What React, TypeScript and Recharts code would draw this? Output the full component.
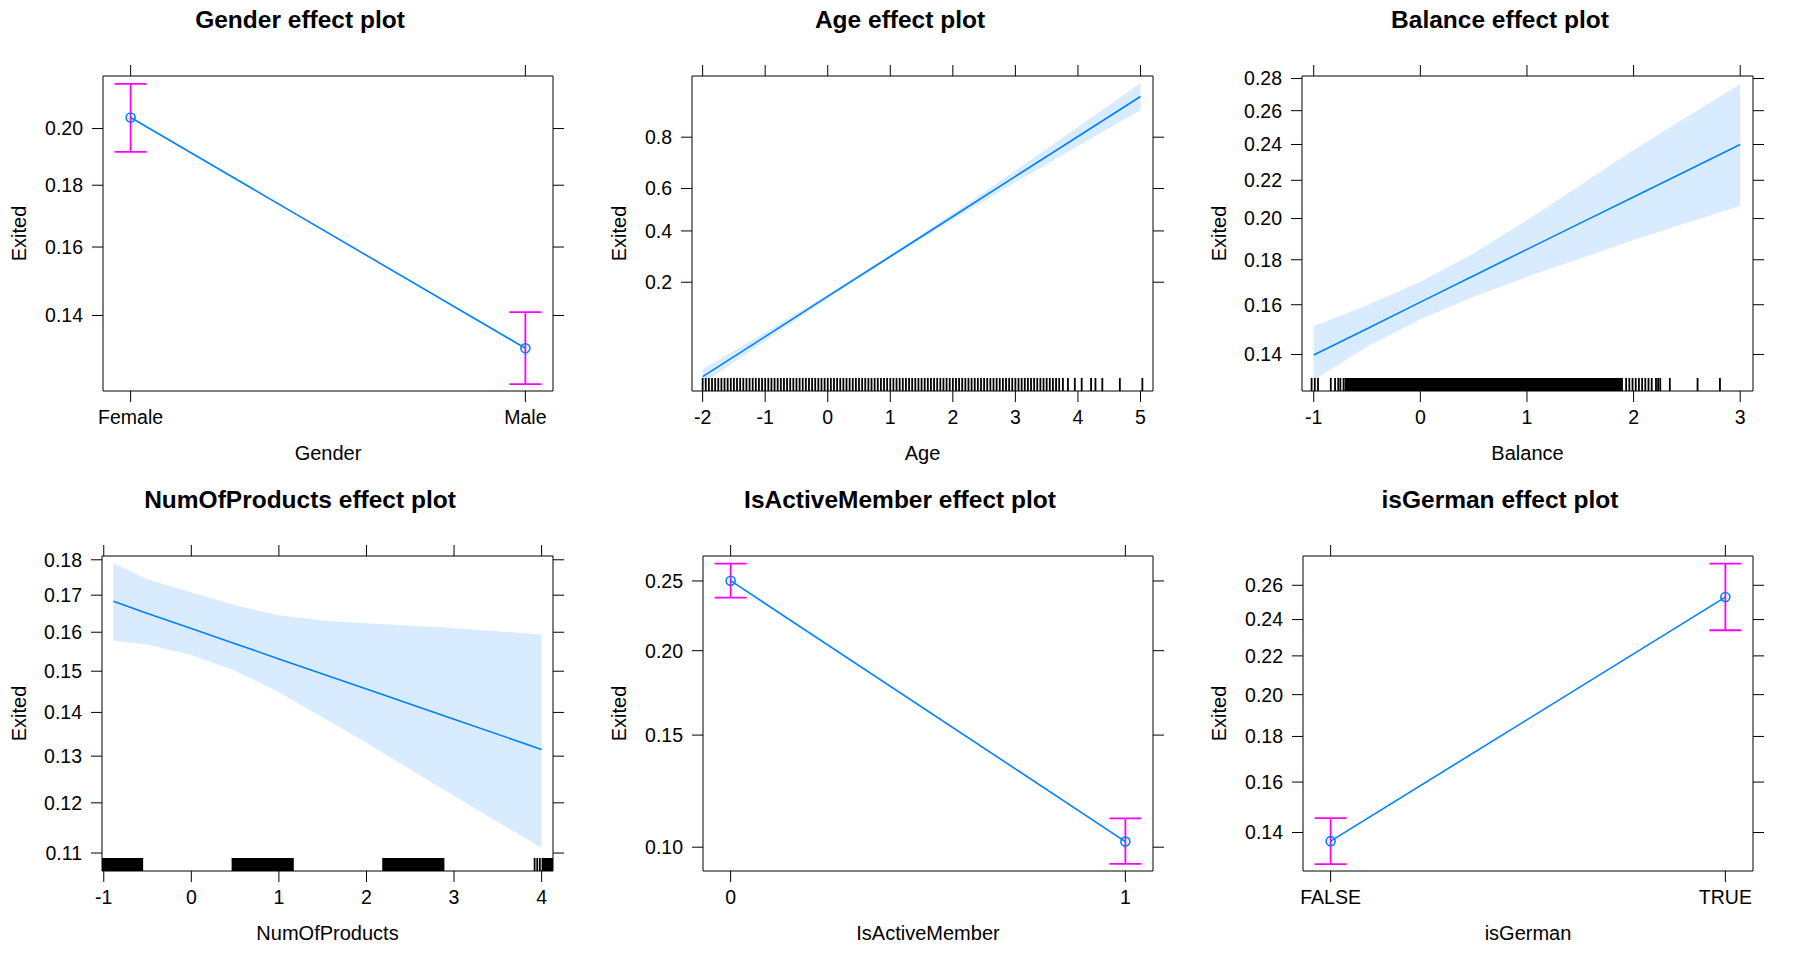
import React from 'react';
import {
  ComposedChart,
  XAxis,
  YAxis,
  Line,
  Area,
  Scatter,
  ErrorBar,
  ReferenceArea,
} from 'recharts';

// ---- Gender ----
const genderLevels = ['Female', 'Male'];
const genderFit = [0.2041, 0.1312];
const genderLower = [0.1916, 0.1221];
const genderUpper = [0.2169, 0.1409];
const genderYRange = [0.1204, 0.22];
const genderYTicks = [0.14, 0.16, 0.18, 0.2];
const genderYLabels = ['0.14', '0.16', '0.18', '0.20'];

// ---- Age ----
const ageX = [-2, -1, 0, 1, 2, 3, 4, 5];
const ageFit = [0.0395, 0.0812, 0.16, 0.29, 0.4675, 0.654, 0.802, 0.897];
const ageLower = [0.0346, 0.0755, 0.1545, 0.2839, 0.4526, 0.6283, 0.7721, 0.8699];
const ageUpper = [0.0452, 0.0875, 0.1652, 0.2963, 0.4825, 0.6781, 0.8292, 0.9184];
const ageYRange = [0.0303, 0.928];
const ageYTicks = [0.2, 0.4, 0.6, 0.8];
const ageYLabels = ['0.2', '0.4', '0.6', '0.8'];
const ageXTicks = [-2, -1, 0, 1, 2, 3, 4, 5];
const ageRug = [
  -2.0, -1.95, -1.9, -1.85, -1.8, -1.75, -1.7, -1.65, -1.6, -1.55, -1.5, -1.45, -1.4, -1.35,
  -1.3, -1.25, -1.2, -1.15, -1.1, -1.05, -1.0, -0.95, -0.9, -0.85, -0.8, -0.75, -0.7, -0.65,
  -0.6, -0.55, -0.5, -0.45, -0.4, -0.35, -0.3, -0.25, -0.2, -0.15, -0.1, -0.05, 0.0, 0.05,
  0.1, 0.15, 0.2, 0.25, 0.3, 0.35, 0.4, 0.45, 0.5, 0.55, 0.6, 0.65, 0.7, 0.75, 0.8, 0.85,
  0.9, 0.95, 1.0, 1.05, 1.1, 1.15, 1.2, 1.25, 1.3, 1.35, 1.4, 1.45, 1.5, 1.55, 1.6, 1.65,
  1.7, 1.75, 1.8, 1.85, 1.9, 1.95, 2.0, 2.05, 2.1, 2.15, 2.2, 2.25, 2.3, 2.35, 2.4, 2.45,
  2.5, 2.55, 2.6, 2.65, 2.7, 2.75, 2.8, 2.85, 2.9, 2.95, 3.0, 3.05, 3.1, 3.15, 3.2, 3.25,
  3.3, 3.35, 3.4, 3.45, 3.5, 3.55, 3.6, 3.65, 3.7, 3.76, 3.84, 3.95, 4.06, 4.21, 4.28, 4.39,
  4.67, 5.03,
];

// ---- Balance ----
const balanceX = [-1, -0.5, 0, 0.5, 1, 1.5, 2, 2.5, 3];
const balanceFit = [0.1398, 0.1501, 0.1611, 0.1727, 0.1849, 0.1977, 0.2111, 0.2252, 0.24];
const balanceLower = [0.1306, 0.143, 0.1539, 0.1634, 0.1722, 0.1806, 0.1894, 0.1979, 0.2064];
const balanceUpper = [0.1511, 0.1598, 0.17, 0.183, 0.1992, 0.2174, 0.2368, 0.2563, 0.2763];
const balanceYRange = [0.1267, 0.2816];
const balanceYTicks = [0.14, 0.16, 0.18, 0.2, 0.22, 0.24, 0.26, 0.28];
const balanceYLabels = ['0.14', '0.16', '0.18', '0.20', '0.22', '0.24', '0.26', '0.28'];
const balanceXTicks = [-1, 0, 1, 2, 3];
const balanceRug = [
  -1.02, -0.99, -0.96, -0.84, -0.8, -0.77, -0.75, -0.72, 1.93, 1.96, 1.99, 2.02, 2.05, 2.08,
  2.11, 2.14, 2.17, 2.21, 2.23, 2.25, 2.34, 2.6, 2.81,
];
const balanceRugBlocks: [number, number][] = [[-0.71, 1.9]];

// ---- NumOfProducts ----
const productsX = [-0.89, -0.5, 0, 0.5, 1, 1.5, 2, 3, 4];
const productsFit = [0.1683, 0.165, 0.161, 0.157, 0.1531, 0.1493, 0.1456, 0.1384, 0.1315];
const productsLower = [0.1578, 0.1568, 0.1541, 0.1501, 0.1448, 0.1388, 0.133, 0.1214, 0.111];
const productsUpper = [0.1791, 0.1744, 0.1708, 0.1672, 0.1645, 0.1631, 0.1624, 0.1611, 0.1594];
const productsYRange = [0.1066, 0.1811];
const productsYTicks = [0.11, 0.12, 0.13, 0.14, 0.15, 0.16, 0.17, 0.18];
const productsYLabels = ['0.11', '0.12', '0.13', '0.14', '0.15', '0.16', '0.17', '0.18'];
const productsXTicks = [-1, 0, 1, 2, 3, 4];
const productsRug = [3.92, 3.95, 3.98];
const productsRugBlocks: [number, number][] = [
  [-1.02, -0.55],
  [0.46, 1.17],
  [2.18, 2.89],
  [4.0, 4.15],
];

// ---- IsActiveMember ----
const activeLevels = ['0', '1'];
const activeFit = [0.2502, 0.1021];
const activeLower = [0.2373, 0.094];
const activeUpper = [0.2637, 0.1112];
const activeYRange = [0.0915, 0.2698];
const activeYTicks = [0.1, 0.15, 0.2, 0.25];
const activeYLabels = ['0.10', '0.15', '0.20', '0.25'];

// ---- isGerman ----
const germanLevels = ['FALSE', 'TRUE'];
const germanFit = [0.1368, 0.253];
const germanLower = [0.1286, 0.234];
const germanUpper = [0.1455, 0.2732];
const germanYRange = [0.1262, 0.2779];
const germanYTicks = [0.14, 0.16, 0.18, 0.2, 0.22, 0.24, 0.26];
const germanYLabels = ['0.14', '0.16', '0.18', '0.20', '0.22', '0.24', '0.26'];

const W = 600;
const H = 480;
const PLOT_TOP = 76;
const PLOT_BOTTOM = 391;
const PLOT_RIGHT = 553;
const TICK = 11;
const RUG_PX = 13;
const BLUE = '#0080ff';
const BAND = '#d9ebff';
const MAGENTA = '#ff00ff';

const logit = (p: number) => Math.log(p / (1 - p));

type PanelProps = {
  left: number;
  top: number;
  title: string;
  xLabel: string;
  plotLeft: number;
  xDomain: [number, number];
  xTicks: number[];
  xLabels: string[];
  yRange: number[];
  yTicks: number[];
  yLabels: string[];
  factor?: { fit: number[]; lower: number[]; upper: number[] };
  curve?: { xs: number[]; fit: number[]; lower: number[]; upper: number[] };
  rug?: number[];
  rugBlocks?: [number, number][];
};

const Panel = (props: PanelProps) => {
  const { left, top, title, xLabel, plotLeft, xDomain, xTicks, xLabels, yRange, yTicks, yLabels } = props;
  const yDom: [number, number] = [logit(yRange[0]), logit(yRange[1])];
  const yTickPos = yTicks.map(logit);
  const rugH = ((yDom[1] - yDom[0]) * RUG_PX) / (PLOT_BOTTOM - PLOT_TOP);

  const fmtX = (v: number) => {
    const i = xTicks.findIndex((t) => Math.abs(t - v) < 1e-9);
    return i >= 0 ? xLabels[i] : '';
  };
  const fmtY = (v: number) => {
    const i = yTickPos.findIndex((t) => Math.abs(t - v) < 1e-9);
    return i >= 0 ? yLabels[i] : '';
  };

  let data: any[] = [];
  if (props.factor) {
    const f = props.factor;
    data = f.fit.map((p, i) => ({
      x: i,
      y: logit(p),
      err: [logit(p) - logit(f.lower[i]), logit(f.upper[i]) - logit(p)],
    }));
  } else if (props.curve) {
    const c = props.curve;
    data = c.xs.map((x, i) => ({
      x,
      fit: logit(c.fit[i]),
      band: [logit(c.lower[i]), logit(c.upper[i])],
    }));
  }

  const rugData = (props.rug || []).map((x) => ({ x, y: yDom[0] }));
  const plotCenter = (plotLeft + PLOT_RIGHT) / 2;
  const tickStyle = { fill: '#000', fontSize: 19.5 };

  return (
    <div style={{ position: 'absolute', left, top, width: W, height: H }}>
      <ComposedChart width={W} height={H} data={data} margin={{ top: 0, right: 0, bottom: 0, left: 0 }}>
        <XAxis
          xAxisId="b"
          dataKey="x"
          type="number"
          domain={xDomain}
          allowDataOverflow
          ticks={xTicks}
          interval={0}
          tickFormatter={fmtX}
          height={H - PLOT_BOTTOM}
          tickSize={TICK}
          tickMargin={8}
          stroke="#000"
          tick={tickStyle}
        />
        <XAxis
          xAxisId="t"
          dataKey="x"
          orientation="top"
          type="number"
          domain={xDomain}
          allowDataOverflow
          ticks={xTicks}
          interval={0}
          tickFormatter={() => ''}
          height={PLOT_TOP}
          tickSize={TICK}
          stroke="#000"
        />
        <YAxis
          yAxisId="l"
          type="number"
          domain={yDom}
          allowDataOverflow
          ticks={yTickPos}
          interval={0}
          tickFormatter={fmtY}
          width={plotLeft}
          tickSize={TICK}
          tickMargin={9}
          stroke="#000"
          tick={tickStyle}
        />
        <YAxis
          yAxisId="r"
          orientation="right"
          type="number"
          domain={yDom}
          allowDataOverflow
          ticks={yTickPos}
          interval={0}
          tickFormatter={() => ''}
          width={W - PLOT_RIGHT}
          tickSize={TICK}
          stroke="#000"
        />

        {props.curve && (
          <Area
            xAxisId="b"
            yAxisId="l"
            dataKey="band"
            type="linear"
            stroke="none"
            fill={BAND}
            fillOpacity={1}
            isAnimationActive={false}
          />
        )}

        {(props.rugBlocks || []).map(([a, b], i) => (
          <ReferenceArea
            key={'blk' + i}
            xAxisId="b"
            yAxisId="l"
            x1={a}
            x2={b}
            y1={yDom[0]}
            y2={yDom[0] + rugH}
            fill="#000"
            fillOpacity={1}
            stroke="none"
            ifOverflow="hidden"
          />
        ))}

        {props.rug && (
          <Scatter
            xAxisId="b"
            yAxisId="l"
            data={rugData}
            dataKey="y"
            isAnimationActive={false}
            shape={(p: any) => (
              <line x1={p.cx} x2={p.cx} y1={p.cy} y2={p.cy - RUG_PX} stroke="#000" strokeWidth={1.8} />
            )}
          />
        )}

        {props.curve && (
          <Line
            xAxisId="b"
            yAxisId="l"
            dataKey="fit"
            type="linear"
            stroke={BLUE}
            strokeWidth={1.6}
            dot={false}
            isAnimationActive={false}
          />
        )}

        {props.factor && (
          <Line
            xAxisId="b"
            yAxisId="l"
            dataKey="y"
            type="linear"
            stroke={BLUE}
            strokeWidth={1.6}
            dot={{ r: 4.5, stroke: BLUE, strokeWidth: 1.6, fill: 'none' }}
            isAnimationActive={false}
          >
            <ErrorBar dataKey="err" direction="y" width={16} stroke={MAGENTA} strokeWidth={1.8} />
          </Line>
        )}
      </ComposedChart>

      <svg
        width={W}
        height={H}
        style={{ position: 'absolute', left: 0, top: 0, pointerEvents: 'none' }}
      >
        <text x={300} y={27.5} textAnchor="middle" fontSize={24.5} fontWeight="bold" fill="#000">
          {title}
        </text>
        <text x={plotCenter} y={460} textAnchor="middle" fontSize={20} fill="#000">
          {xLabel}
        </text>
        <text
          transform={`translate(26,${(PLOT_TOP + PLOT_BOTTOM) / 2}) rotate(-90)`}
          textAnchor="middle"
          fontSize={20}
          fill="#000"
        >
          Exited
        </text>
      </svg>
    </div>
  );
};

const App = () => {
  return (
    <div
      style={{
        position: 'absolute',
        left: 0,
        top: 0,
        width: 1800,
        height: 960,
        background: '#fff',
        fontFamily: '"Liberation Sans", Arial, sans-serif',
      }}
    >
      <Panel
        left={0}
        top={0}
        title="Gender effect plot"
        xLabel="Gender"
        plotLeft={103}
        xDomain={[-0.07, 1.07]}
        xTicks={[0, 1]}
        xLabels={genderLevels}
        yRange={genderYRange}
        yTicks={genderYTicks}
        yLabels={genderYLabels}
        factor={{ fit: genderFit, lower: genderLower, upper: genderUpper }}
      />
      <Panel
        left={600}
        top={0}
        title="Age effect plot"
        xLabel="Age"
        plotLeft={92}
        xDomain={[-2.17, 5.2]}
        xTicks={ageXTicks}
        xLabels={ageXTicks.map(String)}
        yRange={ageYRange}
        yTicks={ageYTicks}
        yLabels={ageYLabels}
        curve={{ xs: ageX, fit: ageFit, lower: ageLower, upper: ageUpper }}
        rug={ageRug}
      />
      <Panel
        left={1200}
        top={0}
        title="Balance effect plot"
        xLabel="Balance"
        plotLeft={102}
        xDomain={[-1.11, 3.12]}
        xTicks={balanceXTicks}
        xLabels={balanceXTicks.map(String)}
        yRange={balanceYRange}
        yTicks={balanceYTicks}
        yLabels={balanceYLabels}
        curve={{ xs: balanceX, fit: balanceFit, lower: balanceLower, upper: balanceUpper }}
        rug={balanceRug}
        rugBlocks={balanceRugBlocks}
      />
      <Panel
        left={0}
        top={480}
        title="NumOfProducts effect plot"
        xLabel="NumOfProducts"
        plotLeft={102}
        xDomain={[-1.02, 4.13]}
        xTicks={productsXTicks}
        xLabels={productsXTicks.map(String)}
        yRange={productsYRange}
        yTicks={productsYTicks}
        yLabels={productsYLabels}
        curve={{ xs: productsX, fit: productsFit, lower: productsLower, upper: productsUpper }}
        rug={productsRug}
        rugBlocks={productsRugBlocks}
      />
      <Panel
        left={600}
        top={480}
        title="IsActiveMember effect plot"
        xLabel="IsActiveMember"
        plotLeft={103}
        xDomain={[-0.07, 1.07]}
        xTicks={[0, 1]}
        xLabels={activeLevels}
        yRange={activeYRange}
        yTicks={activeYTicks}
        yLabels={activeYLabels}
        factor={{ fit: activeFit, lower: activeLower, upper: activeUpper }}
      />
      <Panel
        left={1200}
        top={480}
        title="isGerman effect plot"
        xLabel="isGerman"
        plotLeft={103}
        xDomain={[-0.07, 1.07]}
        xTicks={[0, 1]}
        xLabels={germanLevels}
        yRange={germanYRange}
        yTicks={germanYTicks}
        yLabels={germanYLabels}
        factor={{ fit: germanFit, lower: germanLower, upper: germanUpper }}
      />
    </div>
  );
};

export default App;
